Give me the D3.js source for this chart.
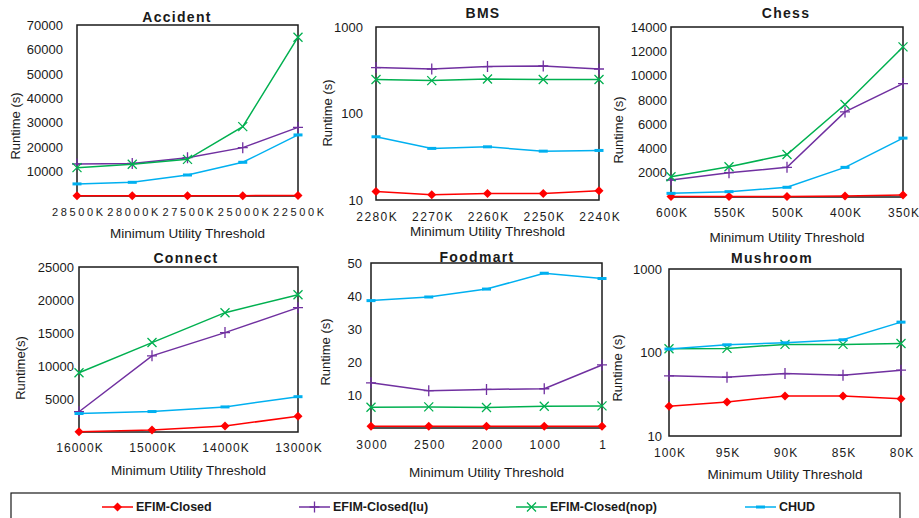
<!DOCTYPE html>
<html>
<head>
<meta charset="utf-8">
<script src="https://cdn.jsdelivr.net/npm/d3@7"></script>
<style>
  body { margin: 0; background: #fff; }
  svg text { font-family: "Liberation Sans", Arial, sans-serif; fill: #1a1a1a; }
</style>
</head>
<body>
<div id="chart"></div>
<script>
// series shared by all panels
let seriesNames = ["EFIM-Closed", "EFIM-Closed(lu)", "EFIM-Closed(nop)", "CHUD"];
let seriesColors = ["#FF0000", "#7030A0", "#00B050", "#00B0F0"];
let seriesMarks = ["diamond", "plus", "cross", "dash"];

// Accident
let accidentThresholds = ["28500K", "28000K", "27500K", "25000K", "22500K"];
let accidentEfim = [120, 130, 140, 150, 180];
let accidentLu = [13100, 13300, 15700, 19800, 28100];
let accidentNop = [11600, 13000, 15000, 28400, 65000];
let accidentChud = [4950, 5600, 8600, 13800, 25000];
let accidentTicks = [10000, 20000, 30000, 40000, 50000, 60000, 70000];

// BMS
let bmsThresholds = ["2280K", "2270K", "2260K", "2250K", "2240K"];
let bmsEfim = [12.5, 11.5, 11.9, 11.9, 12.8];
let bmsLu = [340, 327, 349, 355, 327];
let bmsNop = [247, 240, 250, 247, 247];
let bmsChud = [53.8, 39.5, 41.2, 36.7, 37.4];
let bmsTicks = [10, 100, 1000];

// Chess
let chessThresholds = ["600K", "550K", "500K", "400K", "350K"];
let chessEfim = [40, 45, 50, 90, 170];
let chessLu = [1400, 2000, 2440, 7010, 9340];
let chessNop = [1670, 2490, 3500, 7620, 12360];
let chessChud = [300, 440, 800, 2440, 4850];
let chessTicks = [2000, 4000, 6000, 8000, 10000, 12000, 14000];

// Connect
let connectThresholds = ["16000K", "15000K", "14000K", "13000K"];
let connectEfim = [50, 300, 900, 2400];
let connectLu = [3070, 11540, 15060, 18840];
let connectNop = [8970, 13550, 18080, 20800];
let connectChud = [2800, 3100, 3800, 5350];
let connectTicks = [5000, 10000, 15000, 20000, 25000];

// Foodmart
let foodmartThresholds = ["3000", "2500", "2000", "1000", "1"];
let foodmartEfim = [0.5, 0.5, 0.5, 0.5, 0.5];
let foodmartLu = [13.7, 11.3, 11.7, 11.9, 19.1];
let foodmartNop = [6.3, 6.4, 6.2, 6.6, 6.7];
let foodmartChud = [38.6, 39.7, 42.1, 46.9, 45.3];
let foodmartTicks = [10, 20, 30, 40, 50];

// Mushroom
let mushroomThresholds = ["100K", "95K", "90K", "85K", "80K"];
let mushroomEfim = [22.7, 25.6, 30.2, 30.2, 28];
let mushroomLu = [52.5, 50.6, 56, 53.5, 61.4];
let mushroomNop = [110.7, 112, 125, 125, 128];
let mushroomChud = [110, 123.6, 130.6, 142, 231];
let mushroomTicks = [10, 100, 1000];

// panel layout (pixel boxes of each plot area)
let panels = [
  { title: "Accident", cats: accidentThresholds, vals: [accidentEfim, accidentLu, accidentNop, accidentChud],
    ticks: accidentTicks, log: false, domain: [0, 70000], ylabel: "Runtime (s)", fs: 11,
    l: 77, r: 298, t: 25, b: 196, gap: 14, ls: 2.6, xTickY: 212, xTitleY: 233, titleX: 177, titleY: 17, yLabX: 15, yLabY: 126 },
  { title: "BMS", cats: bmsThresholds, vals: [bmsEfim, bmsLu, bmsNop, bmsChud],
    ticks: bmsTicks, log: true, domain: [10, 1000], ylabel: "Runtime (s)", fs: 12,
    l: 376, r: 599, t: 27, b: 200, gap: 13, ls: 1.4, xTickY: 217, xTitleY: 231, titleX: 483, titleY: 13, yLabX: 327, yLabY: 113 },
  { title: "Chess", cats: chessThresholds, vals: [chessEfim, chessLu, chessNop, chessChud],
    ticks: chessTicks, log: false, domain: [0, 14000], ylabel: "Runtime (s)", fs: 12,
    l: 671, r: 903, t: 27, b: 197, gap: 4, ls: 1.0, xTickY: 213, xTitleY: 237, titleX: 786, titleY: 13, yLabX: 618, yLabY: 130 },
  { title: "Connect", cats: connectThresholds, vals: [connectEfim, connectLu, connectNop, connectChud],
    ticks: connectTicks, log: false, domain: [0, 25000], ylabel: "Runtime(s)", fs: 12,
    l: 79, r: 298, t: 267, b: 432, gap: 5, ls: 1.0, xTickY: 448, xTitleY: 470, titleX: 186, titleY: 258, yLabX: 20, yLabY: 368 },
  { title: "Foodmart", cats: foodmartThresholds, vals: [foodmartEfim, foodmartLu, foodmartNop, foodmartChud],
    ticks: foodmartTicks, log: false, domain: [0, 50], ylabel: "Runtime (s)", fs: 12,
    l: 371, r: 602, t: 263, b: 428, gap: 9, ls: 1.3, xTickY: 445, xTitleY: 472, titleX: 477, titleY: 257, yLabX: 325, yLabY: 352 },
  { title: "Mushroom", cats: mushroomThresholds, vals: [mushroomEfim, mushroomLu, mushroomNop, mushroomChud],
    ticks: mushroomTicks, log: true, domain: [10, 1000], ylabel: "Runtime (s)", fs: 12,
    l: 669, r: 901, t: 269, b: 436, gap: 7, ls: 1.0, xTickY: 453, xTitleY: 474, titleX: 772, titleY: 258, yLabX: 617, yLabY: 368 }
];

// left edge of each legend entry
let legendStarts = [102, 299, 516, 745];

let svg = d3.select("#chart").append("svg")
  .attr("width", 919)
  .attr("height", 518);

// marker shapes
function drawMark(g, kind, color) {
  if (kind === "diamond") {
    g.append("path").attr("d", "M0,-4.5L4.5,0L0,4.5L-4.5,0Z").attr("fill", color);
  } else if (kind === "plus") {
    g.append("path").attr("d", "M-5,0H5M0,-5.5V5.5").attr("stroke", color).attr("stroke-width", 1.3).attr("fill", "none");
  } else if (kind === "cross") {
    g.append("path").attr("d", "M-4.5,-4.5L4.5,4.5M-4.5,4.5L4.5,-4.5").attr("stroke", color).attr("stroke-width", 1.3).attr("fill", "none");
  } else {
    g.append("rect").attr("x", -4.5).attr("y", -1.5).attr("width", 9).attr("height", 3).attr("fill", color);
  }
}

panels.forEach(function(p) {
  let x = d3.scalePoint().domain(p.cats).range([p.l, p.r]).padding(0);
  let y = (p.log ? d3.scaleLog() : d3.scaleLinear()).domain(p.domain).range([p.b, p.t]);

  // frame
  svg.append("rect")
    .attr("x", p.l).attr("y", p.t)
    .attr("width", p.r - p.l).attr("height", p.b - p.t)
    .attr("fill", "none").attr("stroke", "#1a1a1a").attr("stroke-width", 1.5);

  // y axis
  let yAxis = svg.append("g")
    .attr("transform", `translate(${p.l},0)`)
    .call(d3.axisLeft(y).tickValues(p.ticks).tickSize(0).tickPadding(p.gap).tickFormat(d3.format("d")));
  yAxis.select(".domain").remove();
  yAxis.selectAll("text").style("font-size", "13px").attr("fill", "#1a1a1a");

  // x axis
  let xAxis = svg.append("g")
    .attr("transform", `translate(0,${p.xTickY})`)
    .call(d3.axisBottom(x).tickSize(0).tickPadding(0));
  xAxis.select(".domain").remove();
  xAxis.selectAll("text")
    .attr("y", 0).attr("dy", "0.35em")
    .attr("dx", p.ls / 2)
    .style("font-size", p.fs + "px")
    .style("letter-spacing", p.ls + "px")
    .attr("fill", "#1a1a1a");

  // titles
  svg.append("text")
    .attr("x", p.titleX).attr("y", p.titleY).attr("dy", "0.35em")
    .attr("text-anchor", "middle")
    .style("font-size", "14px").style("font-weight", "bold").style("letter-spacing", "1.3px")
    .text(p.title);
  svg.append("text")
    .attr("x", (p.l + p.r) / 2).attr("y", p.xTitleY).attr("dy", "0.35em")
    .attr("text-anchor", "middle")
    .style("font-size", "13.5px")
    .text("Minimum Utility Threshold");
  svg.append("text")
    .attr("transform", `translate(${p.yLabX},${p.yLabY}) rotate(-90)`)
    .attr("dy", "0.35em")
    .attr("text-anchor", "middle")
    .style("font-size", "13px")
    .text(p.ylabel);

  // lines and markers
  let line = d3.line().x((d, i) => x(p.cats[i])).y(d => y(d));
  p.vals.forEach(function(vals, si) {
    svg.append("path")
      .datum(vals)
      .attr("d", line)
      .attr("fill", "none")
      .attr("stroke", seriesColors[si])
      .attr("stroke-width", 1.5);
    vals.forEach(function(v, i) {
      let g = svg.append("g").attr("transform", `translate(${x(p.cats[i])},${y(v)})`);
      drawMark(g, seriesMarks[si], seriesColors[si]);
    });
  });
});

// legend
svg.append("rect")
  .attr("x", 11).attr("y", 493)
  .attr("width", 889).attr("height", 40)
  .attr("fill", "none").attr("stroke", "#1a1a1a").attr("stroke-width", 1.2);

seriesNames.forEach(function(name, i) {
  let g = svg.append("g").attr("transform", `translate(${legendStarts[i]},507)`);
  g.append("line").attr("x1", 0).attr("x2", 31).attr("stroke", seriesColors[i]).attr("stroke-width", 1.5);
  let m = g.append("g").attr("transform", "translate(15.5,0)");
  drawMark(m, seriesMarks[i], seriesColors[i]);
  g.append("text")
    .attr("x", 34).attr("dy", "0.35em")
    .style("font-size", "12.5px").style("font-weight", "bold")
    .text(name);
});
</script>
</body>
</html>
